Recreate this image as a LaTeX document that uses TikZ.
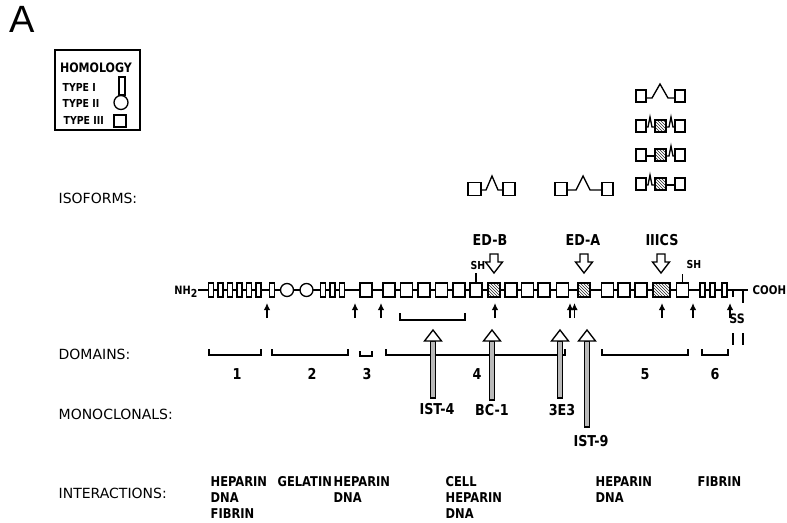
\documentclass[tikz,border=0pt]{standalone}
\usepackage{fontspec}
\setmainfont{DejaVu Sans}
\newfontfamily\arialf{Liberation Sans}
\newfontfamily\condf[FakeStretch=0.85]{DejaVu Sans}
\usetikzlibrary{patterns,arrows.meta}
\newcommand\fnMabArrow[2]{%
  \draw[fill=gray!55] (#1-2.5,341) rectangle (#1+2.5,#2);
  \draw[fill=white,line join=miter] (#1-8.5,341) -- (#1,330) -- (#1+8.5,341) -- cycle;}
\newcommand\fnOpenArrow[1]{%
  \draw[fill=white,line join=miter] (#1-4,254) -- (#1+4,254) -- (#1+4,262) -- (#1+8.5,262) -- (#1,273) -- (#1-8.5,262) -- (#1-4,262) -- cycle;}
\begin{document}
\begin{tikzpicture}[x=1pt,y=-1pt,line width=1.35pt,
  t1/.style={draw,fill=white,minimum width=5pt,minimum height=14pt,inner sep=0pt},
  t2/.style={draw,fill=white,circle,minimum size=13pt,inner sep=0pt},
  t3/.style={draw,fill=white,minimum width=12pt,minimum height=14pt,inner sep=0pt},
  hatch/.style={preaction={fill=white},pattern=north west lines,pattern color=black!85},
  uparr/.style={-{Latex[length=7pt,width=6.5pt]},line width=1.5pt},
  lbl/.style={font=\fontsize{14}{16}\selectfont,anchor=west,inner sep=0pt},
  inter/.style={font=\condf\bfseries\fontsize{13.5}{16}\selectfont,align=left,anchor=north west,inner sep=0pt},
  mab/.style={font=\condf\bfseries\fontsize{15}{17}\selectfont,inner sep=0pt},
  dom/.style={font=\condf\bfseries\fontsize{15}{17}\selectfont,inner sep=0pt},
  iso/.style={font=\condf\bfseries\fontsize{15}{17}\selectfont,inner sep=0pt},
  small/.style={font=\condf\bfseries\fontsize{11}{11}\selectfont,inner sep=0pt}
]
\useasboundingbox (0,0) rectangle (787,522);

% panel letter
\node[font=\arialf\fontsize{38}{38}\selectfont,inner sep=0pt] (lblA) at (22,19) {A};

% legend
\draw[line width=1.7pt] (55,50) rectangle (140,130);
\node[font=\condf\bfseries\fontsize{13}{14}\selectfont,inner sep=0pt] (hom) at (96,68) {HOMOLOGY};
\node[small,anchor=west] (ty1) at (62,87) {TYPE I};
\node[small,anchor=west] (ty2) at (62,103) {TYPE II};
\node[small,anchor=west] (ty3) at (63,120) {TYPE III};
\draw (119,77) rectangle (125,95);
\draw[fill=white] (121,102.5) circle (7);
\draw (114,115) rectangle (126,127);

% left labels
\node[lbl] (lIso) at (58,198) {ISOFORMS:};
\node[lbl] (lDom) at (58,354) {DOMAINS:};
\node[lbl] (lMab) at (58,414) {MONOCLONALS:};
\node[lbl] (lInt) at (58,493) {INTERACTIONS:};

% isoforms
\draw (468,182.5) rectangle (481,195.5);
\draw (481,190) -- (486,190) -- (492,176) -- (498,190) -- (503,190);
\draw (503,182.5) rectangle (515,195.5);
\draw (555,182.5) rectangle (567,195.5);
\draw (567,190) -- (576,190) -- (583,176) -- (590,190) -- (602,190);
\draw (602,182.5) rectangle (613,195.5);
\foreach \c in {96,126,155,184}{
  \draw (636,\c-6) rectangle (646,\c+6);
  \draw (675,\c-6) rectangle (685,\c+6);
}
\draw (646,98) -- (652,98) -- (660,84) -- (668,98) -- (675,98);
\draw (646,127) -- (648,127) -- (650,117) -- (652,127) -- (655,127);
\draw (666,127) -- (669,127) -- (671,117) -- (673,127) -- (675,127);
\draw[hatch] (655,120) rectangle (666,132);
\draw (646,156) -- (655,156);
\draw (666,156) -- (669,156) -- (671,146) -- (673,156) -- (675,156);
\draw[hatch] (655,149) rectangle (666,161);
\draw (646,185) -- (648,185) -- (650,175) -- (652,185) -- (655,185);
\draw (666,185) -- (675,185);
\draw[hatch] (655,178) rectangle (666,190);

% ED labels and open arrows
\node[iso] (edb) at (490,240) {ED-B};
\node[iso] (eda) at (583,240) {ED-A};
\node[iso] (iiics) at (662,240) {IIICS};
\fnOpenArrow{494}
\fnOpenArrow{584}
\fnOpenArrow{661}

% chain
\node[font=\condf\bfseries\fontsize{11.5}{12}\selectfont,inner sep=0pt,anchor=east] (nh) at (198,292) {NH\raisebox{-3pt}{\fontsize{11}{11}\selectfont 2}};
\coordinate (ce) at (748,290);
\draw (nh.east |- ce) -- (ce);
\foreach \x [count=\i] in {211,220.5,230,239.5,249,258.5,272,323,332.5,342,702.5,712.5,724.5}
  \node[t1] (I\i) at (\x,290) {};
\node[t2] (II1) at (287,290) {};
\node[t2] (II2) at (306.5,290) {};
\foreach \x [count=\i] in {366,389,406.5,424,441.5,459,476,511,527.5,544,562.5,607.5,624,641,682.5}
  \node[t3] (III\i) at (\x,290) {};
\node[t3,hatch] (EDB) at (494,290) {};
\node[t3,hatch] (EDA) at (584,290) {};
\node[t3,hatch,minimum width=17pt] (CS) at (661.5,290) {};
\draw (733,290) -- (733,297);
\draw (743,290) -- (743,303);
\node[font=\condf\bfseries\fontsize{11}{12}\selectfont,inner sep=0pt] (sh1) at (478,265) {SH};
\draw (III7.north) -- ++(0,-9);
\node[font=\condf\bfseries\fontsize{11}{12}\selectfont,inner sep=0pt] (sh2) at (694,264) {SH};
\draw (III15.north) -- ++(0,-8);
\node[font=\condf\bfseries\fontsize{12}{12}\selectfont,inner sep=0pt,anchor=west] (cooh) at (752,290) {COOH};

% arrows under chain
\foreach \x in {267,355,381,495,570,574.5,662,693,730}
  \draw[uparr] (\x,318) -- (\x,303);
\node[font=\condf\bfseries\fontsize{13}{13}\selectfont,inner sep=0pt] (ss) at (737,319) {SS};
\draw[line width=1.6pt] (733,333) -- (733,345);
\draw[line width=1.6pt] (743,333) -- (743,345);
\draw (400,313) -- (400,320) -- (465,320) -- (465,313);

% domains
\foreach \a/\b in {209/261,272/348,386/565,602/688,702/728}
  \draw (\a,349) -- (\a,355) -- (\b,355) -- (\b,349);
\draw (360,351) -- (360,356) -- (372,356) -- (372,351);
\node[dom] (d1) at (237,374) {1};
\node[dom] (d2) at (312,374) {2};
\node[dom] (d3) at (367,374) {3};
\node[dom] (d4) at (477,374) {4};
\node[dom] (d5) at (645,374) {5};
\node[dom] (d6) at (715,374) {6};

% monoclonals
\fnMabArrow{433}{398}
\fnMabArrow{492}{400}
\fnMabArrow{560}{398}
\fnMabArrow{587}{427}
\node[mab] (m1) at (437,409) {IST-4};
\node[mab] (m2) at (492,410) {BC-1};
\node[mab] (m3) at (562,410) {3E3};
\node[mab] (m4) at (591,441) {IST-9};

% interactions
\node[inter] (i1) at (210,476) {HEPARIN\\DNA\\FIBRIN};
\node[inter] (i2) at (277,476) {GELATIN};
\node[inter] (i3) at (333,476) {HEPARIN\\DNA};
\node[inter] (i4) at (445,476) {CELL\\HEPARIN\\DNA};
\node[inter] (i5) at (595,476) {HEPARIN\\DNA};
\node[inter] (i6) at (697,476) {FIBRIN};
\end{tikzpicture}
\end{document}
